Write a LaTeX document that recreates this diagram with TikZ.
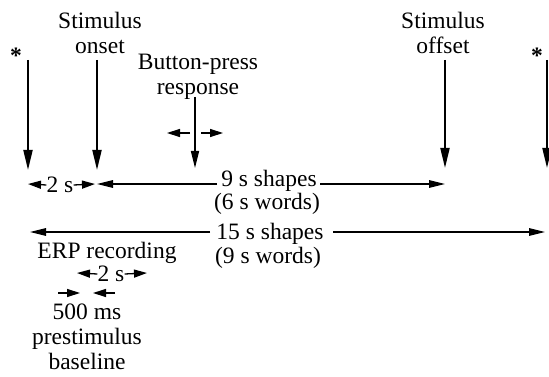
\documentclass[tikz,border=0pt]{standalone}
\usepackage{fontspec}
\setmainfont{Liberation Serif}
\usetikzlibrary{arrows.meta}
\begin{document}
\begin{tikzpicture}[x=1pt,y=-1pt,
  lbl/.style={font=\fontsize{23.5}{25}\selectfont, align=center, inner sep=0pt},
  varrow/.style={line width=2pt, -{Triangle[length=20pt,width=9pt]}},
  barrow/.style={line width=1.6pt, -{Triangle[length=17pt,width=8pt]}},
  harrow/.style={line width=1.3pt, -{Triangle[length=16pt,width=7.5pt]}},
  sarrow/.style={line width=1.3pt, -{Triangle[length=13pt,width=8pt]}}]
\useasboundingbox (0,0) rectangle (549,377);
% top labels
\node[lbl] (onset) at (100,33) {Stimulus\\onset};
\node[lbl] (offset) at (443,33) {Stimulus\\offset};
\node[lbl] (button) at (198,77) {Button-press\\response};
\node[lbl,font=\fontsize{23.5}{25}\selectfont\bfseries] (starL) at (16,56) {*};
\node[lbl,font=\fontsize{23.5}{25}\selectfont\bfseries] (starR) at (537,56) {*};
% vertical arrows
\coordinate (vLt) at (28,60);  \coordinate (vLb) at (28,170);
\coordinate (vOt) at (97,60);  \coordinate (vOb) at (97,170);
\coordinate (vBt) at (195,97); \coordinate (vBb) at (195,168);
\coordinate (vFt) at (445,60); \coordinate (vFb) at (445,168);
\coordinate (vRt) at (547,60); \coordinate (vRb) at (547,168);
\draw[varrow] (vLt) -- (vLb);
\draw[varrow] (vOt) -- (vOb);
\draw[barrow] (vBt) -- (vBb);
\draw[varrow] (vFt) -- (vFb);
\draw[varrow] (vRt) -- (vRb);
% small arrows around button press
\coordinate (bl1) at (190,133); \coordinate (bl2) at (167,133);
\coordinate (br1) at (201,133); \coordinate (br2) at (223,133);
\draw[sarrow] (bl1) -- (bl2);
\draw[sarrow] (br1) -- (br2);
% row 1
\node[lbl] (twoA) at (60,185) {2 s};
\coordinate (r1L) at (28,184); \coordinate (r1M) at (95,184);
\draw[sarrow] (twoA.west) -- (r1L);
\draw[sarrow] (twoA.east) -- (r1M);
\node[lbl] (nine) at (269,181) {9 s shapes};
\node[lbl] (six) at (267,204) {(6 s words)};
\coordinate (r1a) at (217,184); \coordinate (r1b) at (97,184);
\coordinate (r1c) at (320,184); \coordinate (r1d) at (445,184);
\draw[harrow] (r1a) -- (r1b);
\draw[harrow] (r1c) -- (r1d);
% row 2
\node[lbl] (fifteen) at (270,234) {15 s shapes};
\node[lbl] (nineW) at (268,258) {(9 s words)};
\coordinate (r2a) at (210,232); \coordinate (r2b) at (30,232);
\coordinate (r2c) at (333,232); \coordinate (r2d) at (545,232);
\draw[harrow] (r2a) -- (r2b);
\draw[harrow] (r2c) -- (r2d);
% ERP recording
\node[lbl] (erp) at (107,253) {ERP recording};
\node[lbl] (twoB) at (111,274) {2 s};
\coordinate (r3L) at (77,273); \coordinate (r3R) at (147,273);
\draw[sarrow] (twoB.west) -- (r3L);
\draw[sarrow] (twoB.east) -- (r3R);
\coordinate (s1) at (58,293); \coordinate (s2) at (80,293);
\coordinate (s3) at (115,293); \coordinate (s4) at (93,293);
\draw[sarrow] (s1) -- (s2);
\draw[sarrow] (s3) -- (s4);
\node[lbl] (base) at (87,337) {500 ms\\prestimulus\\baseline};
\end{tikzpicture}
\end{document}
